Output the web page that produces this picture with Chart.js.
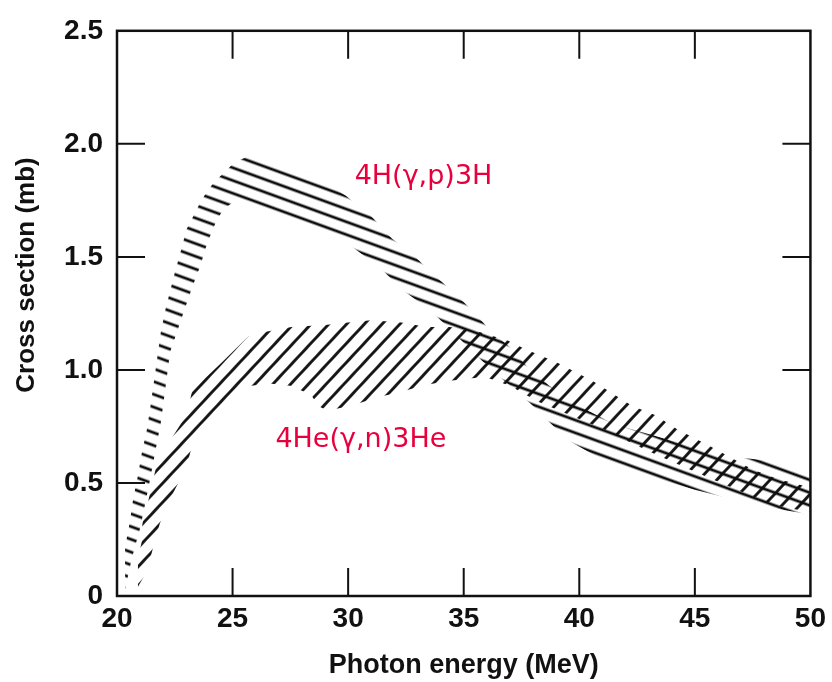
<!DOCTYPE html>
<html>
<head>
<meta charset="utf-8">
<script src="https://cdn.jsdelivr.net/npm/chart.js@4.4.1/dist/chart.umd.min.js"></script>
<style>
  html, body { margin: 0; padding: 0; background: #fff; }
  #wrap { width: 832px; height: 682px; }
</style>
</head>
<body>
<div id="wrap"><canvas id="graph"></canvas></div>
<script>
// 4He(g,p)3H band, outer (upper/left) edge and inner (lower/right) edge
const protonUpperE = [20.0, 20.13, 20.34, 20.56, 20.7, 20.9, 21.07, 21.3, 21.45, 21.6, 21.75, 21.9, 22.1, 22.5, 22.8, 23.0, 23.35, 23.6, 23.9, 24.2, 24.6, 25.1, 25.8, 27.0, 28.4, 29.9, 31.0, 31.9, 32.8, 33.6, 34.6, 35.4, 36.1, 37.0, 37.7, 38.7, 40.0, 41.5, 43.9, 46.2, 48.0, 50.0];
const protonUpperS = [0.08, 0.11, 0.21, 0.33, 0.43, 0.53, 0.63, 0.74, 0.84, 0.95, 1.06, 1.17, 1.27, 1.43, 1.54, 1.62, 1.69, 1.74, 1.79, 1.83, 1.87, 1.92, 1.95, 1.92, 1.87, 1.77, 1.68, 1.58, 1.51, 1.43, 1.34, 1.26, 1.18, 1.10, 1.02, 0.93, 0.84, 0.76, 0.69, 0.62, 0.60, 0.56];
const protonLowerE = [20.35, 20.65, 21.0, 21.4, 21.9, 22.3, 22.7, 23.2, 23.6, 23.9, 24.3, 24.6, 25.0, 26.0, 27.0, 28.5, 30.1, 31.4, 32.4, 33.6, 34.4, 35.3, 36.1, 37.0, 37.9, 38.7, 39.5, 41.2, 43.0, 45.0, 47.7, 50.0];
const protonLowerS = [0.03, 0.17, 0.30, 0.50, 0.77, 1.08, 1.20, 1.35, 1.46, 1.56, 1.66, 1.71, 1.74, 1.73, 1.69, 1.63, 1.55, 1.45, 1.35, 1.26, 1.18, 1.09, 1.01, 0.93, 0.85, 0.77, 0.69, 0.59, 0.53, 0.47, 0.40, 0.36];

// 4He(g,n)3He band
const neutronUpperE = [20.86, 20.9, 21.07, 21.1, 21.33, 21.6, 21.76, 23.0, 23.26, 24.5, 25.7, 26.5, 27.55, 29.1, 30.0, 31.0, 32.3, 33.4, 34.4, 35.6, 36.9, 37.7, 38.4, 39.1, 40.6, 42.3, 43.3, 44.2, 45.7, 47.5, 48.5, 50.0];
const neutronUpperS = [0.06, 0.16, 0.24, 0.32, 0.41, 0.53, 0.60, 0.80, 0.91, 1.03, 1.15, 1.17, 1.19, 1.20, 1.21, 1.22, 1.21, 1.19, 1.19, 1.17, 1.13, 1.09, 1.06, 1.03, 0.95, 0.84, 0.80, 0.74, 0.66, 0.56, 0.52, 0.48];
const neutronLowerE = [20.9, 21.3, 21.55, 21.85, 22.2, 23.0, 23.26, 24.0, 25.0, 25.8, 26.6, 27.5, 28.4, 28.7, 29.1, 30.1, 31.3, 32.2, 33.2, 34.2, 35.1, 35.9, 37.0, 38.2, 41.0, 43.0, 45.0, 47.5, 48.5, 50.0];
const neutronLowerS = [0.04, 0.11, 0.21, 0.32, 0.41, 0.57, 0.67, 0.78, 0.88, 0.93, 0.94, 0.93, 0.89, 0.84, 0.82, 0.84, 0.88, 0.90, 0.93, 0.95, 0.96, 0.97, 0.93, 0.86, 0.74, 0.64, 0.55, 0.44, 0.40, 0.37];

const xTicks = [20, 25, 30, 35, 40, 45, 50];
const yTicks = [0, 0.5, 1.0, 1.5, 2.0, 2.5];

const notes = ['4H(γ,p)3H', '4He(γ,n)3He'];
const noteE = [33.26, 30.55];
const noteS = [1.822, 0.657];

function pts(xs, ys) {
    return xs.map((x, i) => ({ x: x, y: ys[i] }));
}

// hatch fill: horizontal bars rotated to the wanted angle
function hatch(angle, gap, width) {
    const c = document.createElement('canvas');
    c.width = 16;
    c.height = gap;
    const g = c.getContext('2d');
    g.fillStyle = '#0d0d0d';
    g.fillRect(0, (gap - width) / 2, 16, width);
    const p = g.createPattern(c, 'repeat');
    p.setTransform(new DOMMatrix().rotate(angle));
    return p;
}

const nHatch = hatch(-47, 13, 2.8);
const pHatch = hatch(20, 12, 2.8);

function edge(data, fill, bg) {
    return {
        data: data,
        showLine: true,
        fill: fill,
        backgroundColor: bg,
        borderWidth: 0,
        borderColor: 'rgba(0,0,0,0)',
        pointRadius: 0,
        tension: 0
    };
}

const boxFont = { family: 'Liberation Sans', weight: 'bold' };

const frame = {
    id: 'frame',
    beforeDatasetsDraw(chart) {
        const { ctx, chartArea: a, scales: { x, y } } = chart;
        ctx.save();
        ctx.strokeStyle = '#111';
        ctx.lineWidth = 2;
        ctx.beginPath();
        xTicks.slice(1, -1).forEach(v => {
            const px = x.getPixelForValue(v);
            ctx.moveTo(px, a.bottom); ctx.lineTo(px, a.bottom - 28);
            ctx.moveTo(px, a.top); ctx.lineTo(px, a.top + 28);
        });
        yTicks.slice(1, -1).forEach(v => {
            const py = y.getPixelForValue(v);
            ctx.moveTo(a.left, py); ctx.lineTo(a.left + 28, py);
            if (v > 0.5) { ctx.moveTo(a.right, py); ctx.lineTo(a.right - 28, py); }
        });
        ctx.stroke();
        ctx.restore();
    },
    afterDraw(chart) {
        const { ctx, chartArea: a, scales: { x, y } } = chart;
        ctx.save();
        ctx.strokeStyle = '#111';
        ctx.lineWidth = 2.5;
        ctx.strokeRect(a.left, a.top, a.width, a.height);

        // y axis title
        ctx.fillStyle = '#111';
        ctx.font = 'bold 26px "Liberation Sans"';
        ctx.textAlign = 'center';
        ctx.textBaseline = 'middle';
        ctx.translate(27, 275);
        ctx.rotate(-Math.PI / 2);
        ctx.fillText('Cross section (mb)', 0, 0);
        ctx.restore();

        ctx.save();
        ctx.fillStyle = '#e8003d';
        ctx.font = '27px "DejaVu Sans"';
        ctx.textAlign = 'center';
        ctx.textBaseline = 'alphabetic';
        notes.forEach((t, i) => {
            ctx.fillText(t, x.getPixelForValue(noteE[i]), y.getPixelForValue(noteS[i]));
        });
        ctx.restore();
    }
};

const config = {
    type: 'scatter',
    data: {
        datasets: [
            edge(pts(neutronUpperE, neutronUpperS), 1, nHatch),
            edge(pts(neutronLowerE, neutronLowerS), false, nHatch),
            edge(pts(protonUpperE, protonUpperS), 3, pHatch),
            edge(pts(protonLowerE, protonLowerS), false, pHatch)
        ]
    },
    options: {
        responsive: true,
        maintainAspectRatio: false,
        animation: false,
        layout: { padding: { top: 20, right: 16, left: 0, bottom: 0 } },
        plugins: { legend: { display: false }, tooltip: { enabled: false } },
        scales: {
            x: {
                type: 'linear',
                min: 20,
                max: 50,
                afterBuildTicks: s => { s.ticks = xTicks.map(v => ({ value: v })); },
                afterFit: s => { s.height = 86; },
                grid: { display: false, drawTicks: false },
                border: { display: false },
                ticks: {
                    padding: 6,
                    maxRotation: 0,
                    color: '#111',
                    font: Object.assign({ size: 28 }, boxFont),
                    callback: v => String(v)
                },
                title: {
                    display: true,
                    text: 'Photon energy (MeV)',
                    color: '#111',
                    font: Object.assign({ size: 27 }, boxFont),
                    padding: { top: 0, bottom: 0 }
                }
            },
            y: {
                type: 'linear',
                min: 0,
                max: 2.5,
                afterBuildTicks: s => { s.ticks = yTicks.map(v => ({ value: v })); },
                afterFit: s => { s.width = 117; },
                grid: { display: false, drawTicks: false },
                border: { display: false },
                ticks: {
                    padding: 14,
                    color: '#111',
                    font: Object.assign({ size: 28 }, boxFont),
                    callback: v => (v === 0 ? '0' : v.toFixed(1))
                }
            }
        }
    },
    plugins: [frame]
};

const chart = new Chart(document.getElementById('graph'), config);
</script>
</body>
</html>
